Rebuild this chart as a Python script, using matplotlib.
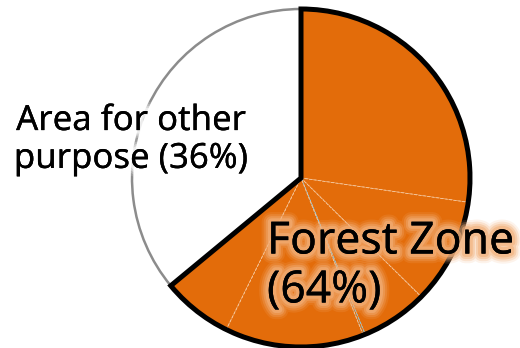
import matplotlib
matplotlib.use('Agg')
import matplotlib.pyplot as plt
import matplotlib.patheffects as pe

plt.rcParams['font.family'] = ['Noto Sans', 'DejaVu Sans']

# land use shares (%)
main_labels = ['Forest Zone', 'Area for other purpose']
main_values = [64, 36]
# forest zone split into its sub-areas (sum = 64)
forest_parts = [27.3, 10.1, 6.4, 0.2, 13.3, 6.7]
part_edges = ['#F6C9A0', '#F6C9A0', '#F6C9A0', '#7EC8E3', '#F6C9A0', '#F6C9A0']

orange = '#E36C0A'
cx, cy, r = 301, 170, 169

fig = plt.figure(figsize=(5.2, 3.48), dpi=100)
ax = fig.add_axes([0, 0, 1, 1])
ax.set_aspect('equal')

# white slice plus the forest sub-slices
vals = forest_parts + [main_values[1]]
cols = [orange] * len(forest_parts) + ['white']
wedges, _ = ax.pie(vals, colors=cols, startangle=90, counterclock=False,
                   center=(cx, cy), radius=r, frame=True,
                   wedgeprops=dict(linewidth=0.6, linestyle='--'))
for w, ec in zip(wedges, part_edges):
    w.set_edgecolor(ec)
wedges[-1].set_edgecolor('none')

# outlines of the two main slices
outl, _ = ax.pie(main_values, colors=['none', 'none'], startangle=90,
                 counterclock=False, center=(cx, cy), radius=r, frame=True)
outl[1].set_edgecolor('#8C8C8C')
outl[1].set_linewidth(1.8)
outl[1].set_zorder(3)
outl[0].set_edgecolor('black')
outl[0].set_linewidth(3.6)
outl[0].set_zorder(4)
outl[0].set_joinstyle('miter')

ax.set_xlim(0, 520)
ax.set_ylim(0, 348)
ax.axis('off')


def glow(color):
    # soft halo: several wide strokes with low alpha
    fx = [pe.withStroke(linewidth=w, foreground=color, alpha=a)
          for w, a in [(14, 0.15), (11, 0.25), (8, 0.4), (5, 0.6)]]
    return fx + [pe.Normal()]


ax.text(131, 208, 'Area for other\npurpose (%d%%)' % main_values[1],
        ha='center', va='center', fontsize=25, linespacing=1.15, zorder=5,
        path_effects=glow('white'))
ax.text(267, 81, '%s\n(%d%%)' % (main_labels[0], main_values[0]),
        ha='left', va='center', fontsize=32, linespacing=1.15, zorder=5,
        path_effects=glow('#F2B07A'))

fig.savefig('out.png', dpi=100)
